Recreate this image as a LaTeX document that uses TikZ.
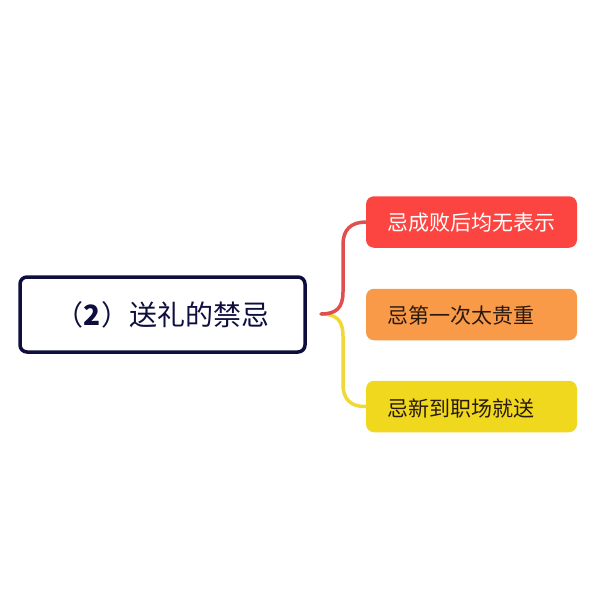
\documentclass[tikz,border=0pt]{standalone}
\usepackage{fontspec}
\setmainfont{Noto Sans CJK SC}
\definecolor{navy}{HTML}{0E0E3E}
\definecolor{redbox}{HTML}{FC4540}
\definecolor{orangebox}{HTML}{F89A48}
\definecolor{yellowbox}{HTML}{F0D81E}
\definecolor{redline}{HTML}{E04F50}
\definecolor{yellowline}{HTML}{EFD93A}
\definecolor{darktext}{HTML}{2A1A0E}
\tikzset{
  rootbox/.style={draw=navy,line width=3.5pt,fill=white,rounded corners=7pt,minimum width=285pt,minimum height=75pt,inner sep=0pt,text=navy,font=\fontsize{28}{32}\selectfont},
  childbox/.style={rounded corners=8pt,minimum width=211pt,minimum height=51.5pt,inner sep=0pt},
  childtext/.style={anchor=west,inner sep=0pt,font=\fontsize{21}{25}\selectfont},
  link/.style={line width=3.5pt,line cap=round}
}
\begin{document}
\begin{tikzpicture}[x=1pt,y=-1pt]
\useasboundingbox (0,0) rectangle (600,600);
\node[rootbox] (root) at (162.5,314.5) {（\textbf{2}）送礼的禁忌};
\node[childbox,fill=redbox] (a) at (471.5,222) {};
\node[childbox,fill=orangebox] (b) at (471.5,314.5) {};
\node[childbox,fill=yellowbox] (c) at (471.5,406.5) {};
\node[childtext,text=white] (at) at (387,223) {忌成败后均无表示};
\node[childtext,text=darktext] (bt) at (387,316) {忌第一次太贵重};
\node[childtext,text=darktext] (ct) at (387,408) {忌新到职场就送};
\coordinate (j) at (321,314);
\draw[link,yellowline] (j) .. controls (336,314) and (343,320) .. (343,336) -- (343,385) .. controls (343,399) and (351,407) .. (c.west);
\draw[link,redline] (j) .. controls (336,314) and (343,308) .. (343,292) -- (343,244) .. controls (343,230) and (351,222) .. (a.west);
\end{tikzpicture}
\end{document}
